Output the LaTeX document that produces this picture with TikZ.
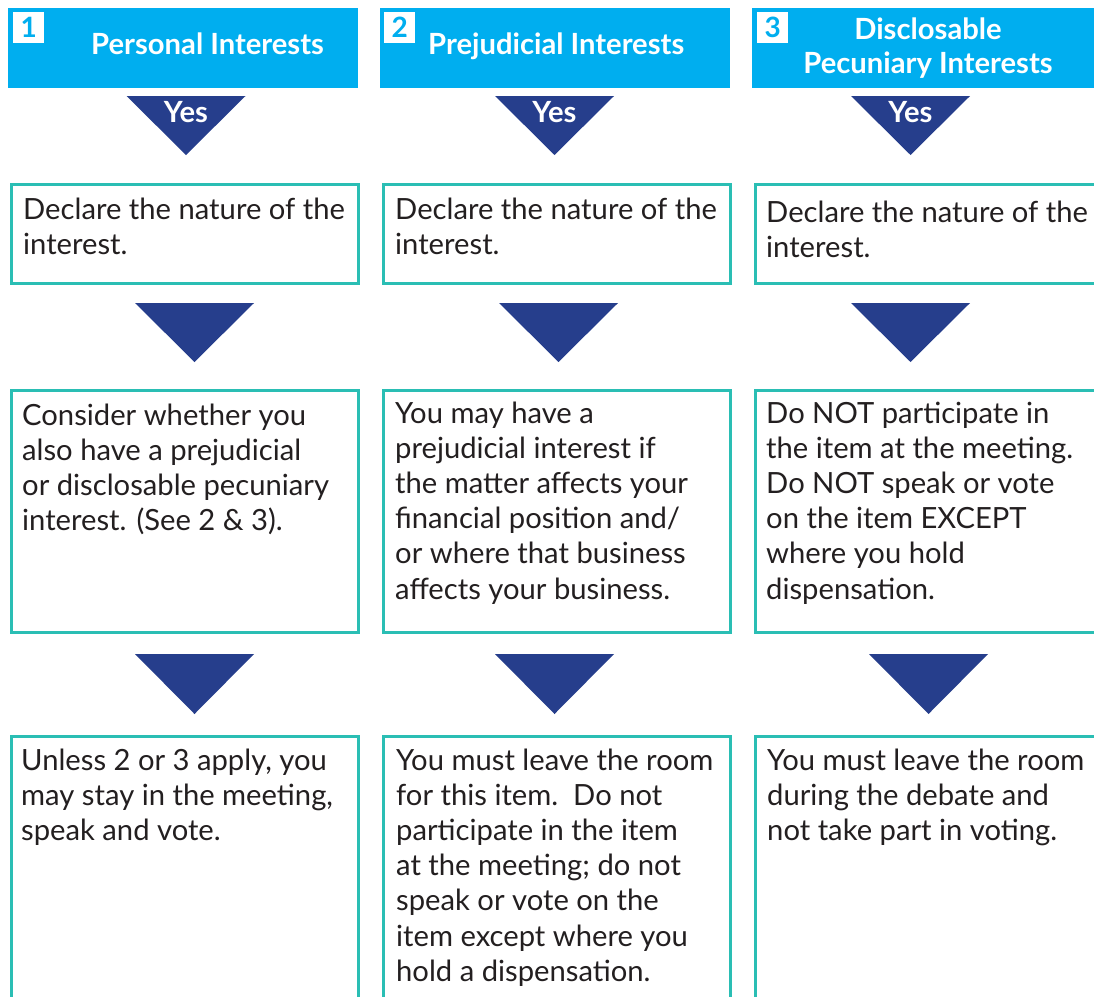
\documentclass[tikz,border=0pt]{standalone}
\usepackage{fontspec}
\setmainfont{Lato}
\definecolor{hdr}{RGB}{0,174,239}
\definecolor{tri}{RGB}{38,62,140}
\definecolor{tealb}{RGB}{42,190,180}
\definecolor{ink}{RGB}{35,31,32}
\newcommand\downtri[3]{\fill[tri] (#1-59.5,#2) -- (#1+59.5,#2) -- (#1,#3) -- cycle;}
\newcommand\bodytext[1]{\parbox[t]{420pt}{\raggedright #1}}
\begin{document}
\begin{tikzpicture}[x=1pt,y=-1pt,
  hdrbox/.style={fill=hdr, draw=none, anchor=north west, minimum width=350pt, minimum height=80pt, inner sep=0pt},
  badge/.style={fill=white, anchor=north west, minimum width=31pt, minimum height=31pt, inner sep=0pt, text=hdr, font=\fontsize{28}{28}\selectfont\bfseries},
  hdrtext/.style={text=white, font=\fontsize{29.2}{34}\selectfont\bfseries, inner sep=0pt},
  boxc/.style={draw=tealb, line width=3pt, anchor=north west, minimum width=347pt, inner sep=0pt},
  body/.style={text=ink, font=\fontsize{29.2}{35.2}\selectfont, anchor=base west, inner sep=0pt}
]
\useasboundingbox (0,0) rectangle (1094,996);
\clip (0,0) rectangle (1094,996);
\fill[white] (0,0) rectangle (1094,996);

% headers
\node[hdrbox] (h1) at (8,8) {};
\node[hdrbox] (h2) at (380,8) {};
\node[hdrbox] (h3) at (752,8) {};
\node[badge] (n1) at (13,12) {1};
\node[badge] (n2) at (384,12) {2};
\node[badge] (n3) at (757,12) {3};
\node[hdrtext, anchor=base west] (t1) at (91,54) {Personal Interests};
\node[hdrtext, anchor=base west] (t2) at (428,54) {Prejudicial Interests};
\node[hdrtext, anchor=base] (t3) at (928,39) {\parbox[t]{350pt}{\centering Disclosable\\Pecuniary Interests}};

% yes triangles
\downtri{186}{96}{155}
\downtri{554.5}{96}{155}
\downtri{910.5}{96}{155}
\node[hdrtext, anchor=base] (y1) at (186,122) {Yes};
\node[hdrtext, anchor=base] (y2) at (554.5,122) {Yes};
\node[hdrtext, anchor=base] (y3) at (910.5,122) {Yes};

% row 1 boxes
\node[boxc, minimum height=99pt] (b11) at (9.5,182.5) {};
\node[boxc, minimum height=99pt] (b12) at (381.5,182.5) {};
\node[boxc, minimum height=99pt] (b13) at (753.5,182.5) {};
\node[body] (x11) at (23,219) {\bodytext{Declare the nature of the\\interest.}};
\node[body] (x12) at (395,219) {\bodytext{Declare the nature of the\\interest.}};
\node[body] (x13) at (766,222) {\bodytext{Declare the nature of the\\interest.}};

% row 2 triangles
\downtri{194.5}{303}{362}
\downtri{558.5}{303}{362}
\downtri{910.5}{303}{362}

% row 2 boxes
\node[boxc, minimum height=242pt] (b21) at (9.5,388.5) {};
\node[boxc, minimum height=242pt] (b22) at (381.5,388.5) {};
\node[boxc, minimum height=242pt] (b23) at (753.5,388.5) {};
\node[body] (x21) at (22,425) {\bodytext{Consider whether you\\also have a prejudicial\\or disclosable pecuniary\\interest. (See 2 \& 3).}};
\node[body] (x22) at (395,423) {\bodytext{You may have a\\prejudicial interest if\\the matter affects your\\financial position and/\\or where that business\\affects your business.}};
\node[body] (x23) at (766,423) {\bodytext{Do NOT participate in\\the item at the meeting.\\Do NOT speak or vote\\on the item EXCEPT\\where you hold\\dispensation.}};

% row 3 triangles
\downtri{194.5}{654}{714}
\downtri{554.5}{654}{714}
\downtri{928.5}{654}{714}

% row 3 boxes
\node[boxc, minimum height=300pt] (b31) at (9.5,734.5) {};
\node[boxc, minimum height=300pt] (b32) at (381.5,734.5) {};
\node[boxc, minimum height=300pt] (b33) at (753.5,734.5) {};
\node[body] (x31) at (21,770) {\bodytext{Unless 2 or 3 apply, you\\may stay in the meeting,\\speak and vote.}};
\node[body] (x32) at (396,770) {\bodytext{You must leave the room\\for this item.\ \ Do not\\participate in the item\\at the meeting; do not\\speak or vote on the\\item except where you\\hold a dispensation.}};
\node[body] (x33) at (767,770) {\bodytext{You must leave the room\\during the debate and\\not take part in voting.}};
\end{tikzpicture}
\end{document}
